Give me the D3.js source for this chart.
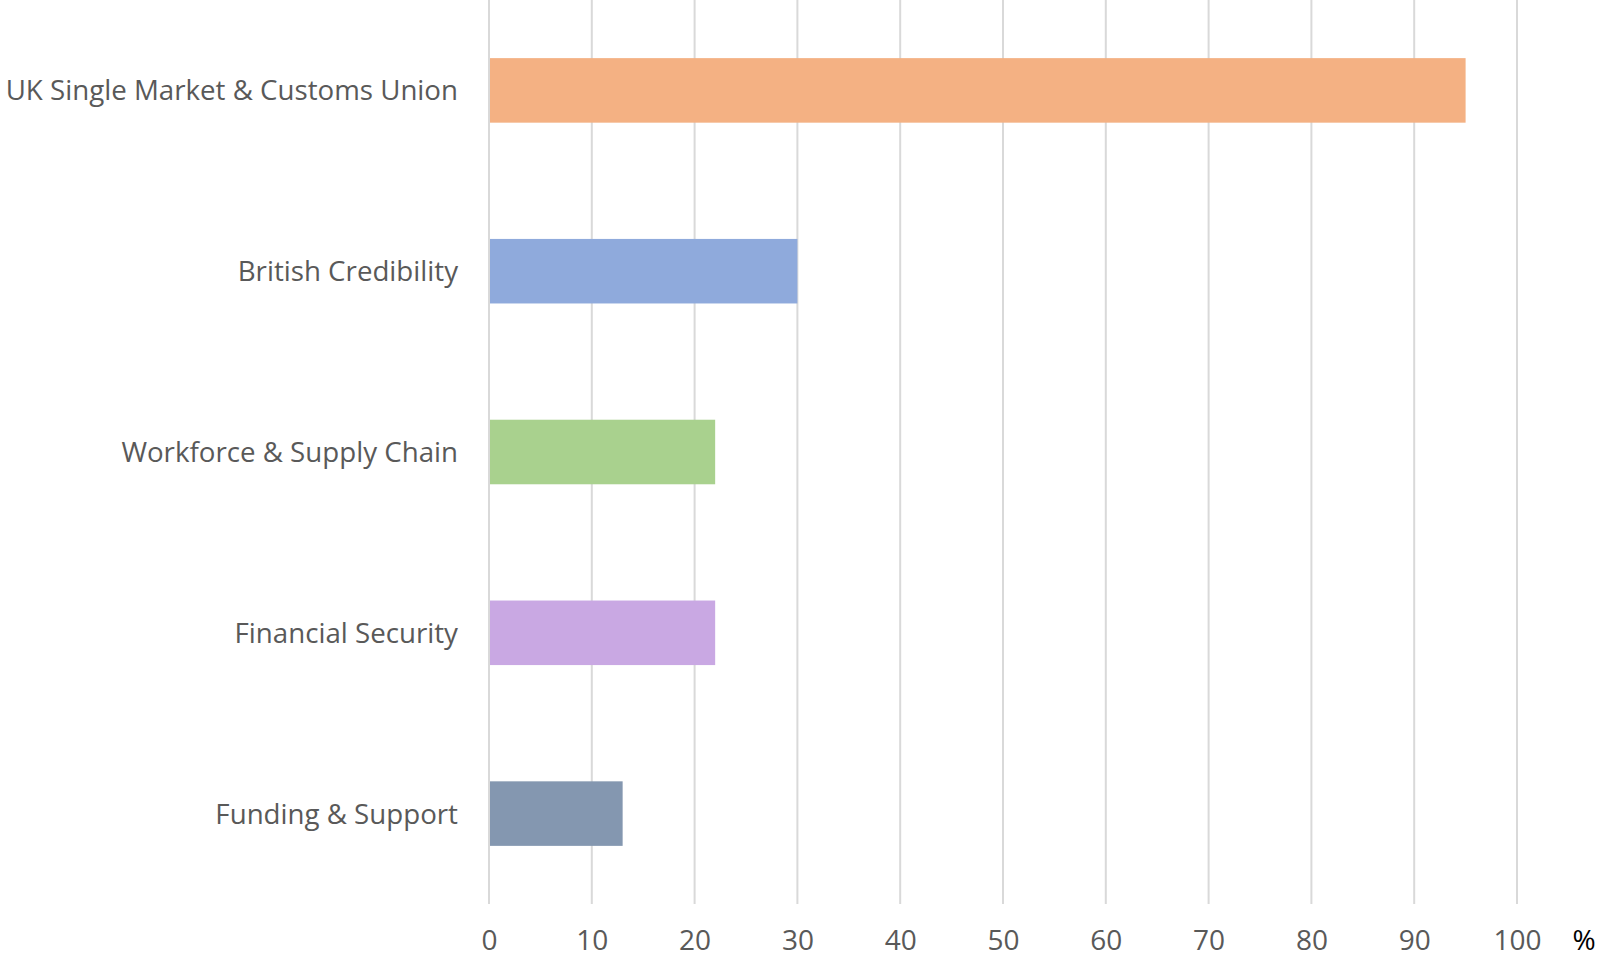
<!DOCTYPE html>
<html>
<head>
<meta charset="utf-8">
<script src="https://cdn.jsdelivr.net/npm/d3@7"></script>
<style>
  html, body { margin: 0; padding: 0; background: #fff; }
  svg { display: block; }
  text { font-family: "Open Sans", sans-serif; }
</style>
</head>
<body>
<script>
const categories = ["UK Single Market & Customs Union", "British Credibility", "Workforce & Supply Chain", "Financial Security", "Funding & Support"];
const values = [95, 30, 22, 22, 13];
const colors = ["#F4B183", "#8FAADC", "#A9D18E", "#C9A8E3", "#8497B0"];
const tickValues = [0, 10, 20, 30, 40, 50, 60, 70, 80, 90, 100];
const unitLabel = "%";

const W = 1601, H = 958;
const margin = { left: 489, right: 84, top: 0, bottom: 54 };
const innerW = W - margin.left - margin.right;
const innerH = H - margin.top - margin.bottom;

const svg = d3.select("body").append("svg").attr("width", W).attr("height", H);
const g = svg.append("g").attr("transform", `translate(${margin.left},${margin.top})`);

const x = d3.scaleLinear().domain([0, 100]).range([0, innerW]);
const y = d3.scaleBand().domain(categories).range([0, innerH]).paddingInner(0.643).paddingOuter(0.3215);

// gridlines
g.append("g").selectAll("line").data(tickValues).join("line")
  .attr("x1", d => x(d)).attr("x2", d => x(d))
  .attr("y1", 0).attr("y2", innerH)
  .attr("stroke", "#D9D9D9").attr("stroke-width", 2);

// bars
g.append("g").selectAll("rect").data(categories).join("rect")
  .attr("x", x(0) + 1)
  .attr("y", d => y(d))
  .attr("width", (d, i) => x(values[i]) - x(0) - 1)
  .attr("height", y.bandwidth())
  .attr("fill", (d, i) => colors[i]);

// x axis
const xAxis = d3.axisBottom(x).tickValues(tickValues).tickSize(0).tickPadding(0).tickFormat(d3.format("d"));
const xg = g.append("g").attr("transform", `translate(0,${innerH})`).call(xAxis);
xg.select(".domain").remove();
xg.selectAll("text").attr("y", 46).attr("dy", null)
  .attr("fill", "#595959").style("font-size", "28px").style("font-family", "'Open Sans', sans-serif");

// y axis
const yAxis = d3.axisLeft(y).tickSize(0).tickPadding(31);
const yg = g.append("g").call(yAxis);
yg.select(".domain").remove();
yg.selectAll("text").attr("dy", "0.36em")
  .attr("fill", "#595959").style("font-size", "27.7px").style("font-family", "'Open Sans', sans-serif");

// unit label
svg.append("text").attr("x", 1584).attr("y", innerH + 46).attr("text-anchor", "middle")
  .attr("fill", "#000").style("font-size", "28px").text(unitLabel);
</script>
</body>
</html>
